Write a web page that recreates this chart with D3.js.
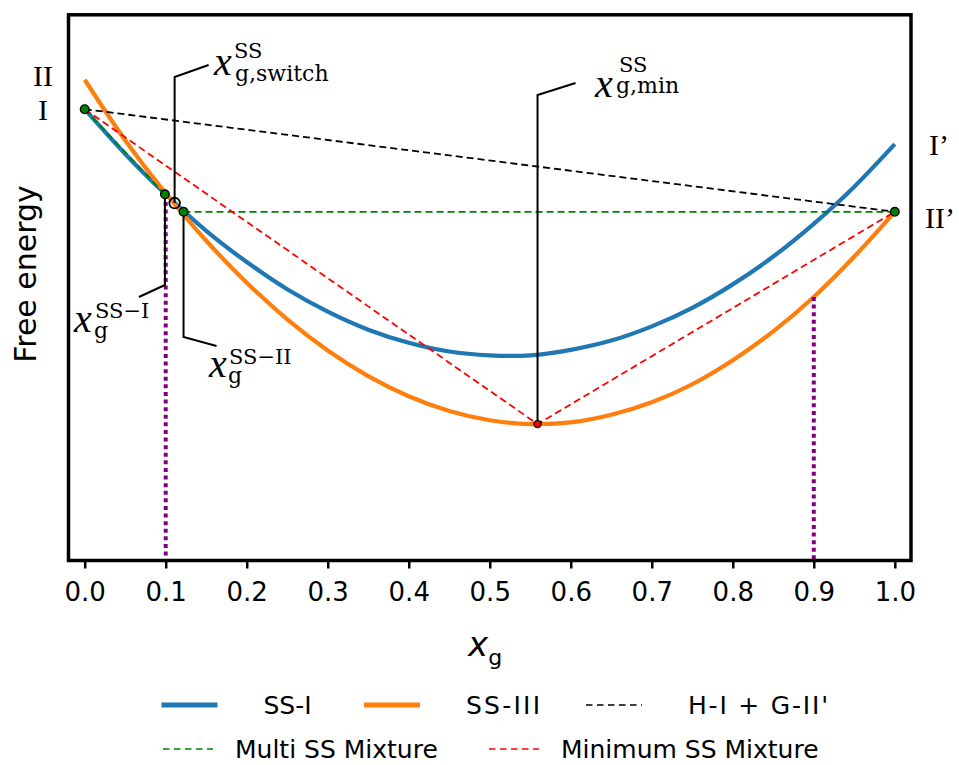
<!DOCTYPE html>
<html>
<head>
<meta charset="utf-8">
<script src="https://cdn.jsdelivr.net/npm/d3@7"></script>
<style>
  html, body { margin: 0; padding: 0; background: #fff; }
  svg { display: block; }
</style>
</head>
<body>
<svg id="chart" width="959" height="765"></svg>
<script>
// Composition grid and free-energy profiles (arbitrary energy units)
const xGrid = [0.00, 0.05, 0.10, 0.15, 0.20, 0.25, 0.30, 0.35, 0.40, 0.45, 0.50,
               0.55, 0.60, 0.65, 0.70, 0.75, 0.80, 0.85, 0.90, 0.95, 1.00];
const ssI   = [8.27, 7.45, 6.71, 6.04, 5.47, 4.97, 4.56, 4.23, 3.99, 3.83, 3.76,
               3.76, 3.86, 4.03, 4.29, 4.63, 5.06, 5.57, 6.17, 6.85, 7.63];
const ssIII = [8.81, 7.70, 6.73, 5.86, 5.09, 4.42, 3.85, 3.38, 3.01, 2.74, 2.57,
               2.50, 2.53, 2.67, 2.90, 3.23, 3.67, 4.20, 4.83, 5.57, 6.39];

// Special compositions [x, energy]
const pointI      = [0.000, 8.27];
const pointIIp    = [1.000, 6.39];
const tangentSSI  = [0.099, 6.71];
const switchPoint = [0.111, 6.55];
const tangentSSII = [0.122, 6.39];
const minPoint    = [0.559, 2.50];

// Dotted composition limits and the energy where each starts
const limitX   = [0.1, 0.9];
const limitTop = [6.71, 4.83];

// Tangent constructions
const hostGuest = [pointI, pointIIp];
const multiMix  = [[pointI, tangentSSI], [tangentSSII, pointIIp]];
const minMix    = [pointI, minPoint, pointIIp];

const xTicks = [0, 0.1, 0.2, 0.3, 0.4, 0.5, 0.6, 0.7, 0.8, 0.9, 1.0];

const C = {
  blue: "#1f77b4", orange: "#ff7f0e", black: "#000000",
  green: "#008000", red: "#ff0000", purple: "#800080"
};

const svg = d3.select("#chart");
const frame = { left: 68.5, right: 911, top: 14.8, bottom: 560.5 };

const x = d3.scaleLinear().domain([-0.02, 1.02]).range([frame.left, frame.right]);
const y = d3.scaleLinear().domain([0, 10]).range([frame.bottom, frame.top]);

svg.append("defs").append("clipPath").attr("id", "plotClip")
  .append("rect")
  .attr("x", frame.left).attr("y", frame.top)
  .attr("width", frame.right - frame.left).attr("height", frame.bottom - frame.top);

const plot = svg.append("g").attr("clip-path", "url(#plotClip)");

const curve = d3.line().x(d => x(d[0])).y(d => y(d[1])).curve(d3.curveNatural);
const seg = d3.line().x(d => x(d[0])).y(d => y(d[1]));

// Solid-solution free-energy curves
plot.append("path").datum(xGrid.map((v, i) => [v, ssI[i]]))
  .attr("d", curve).attr("fill", "none").attr("stroke", C.blue).attr("stroke-width", 4.2);
plot.append("path").datum(xGrid.map((v, i) => [v, ssIII[i]]))
  .attr("d", curve).attr("fill", "none").attr("stroke", C.orange).attr("stroke-width", 4.2);

// Common-tangent / mixture lines
const dash = "7,4";
const dashWidth = 1.8;
plot.append("path").datum(hostGuest).attr("d", seg)
  .attr("fill", "none").attr("stroke", C.black).attr("stroke-width", dashWidth).attr("stroke-dasharray", dash);
multiMix.forEach(s => plot.append("path").datum(s).attr("d", seg)
  .attr("fill", "none").attr("stroke", C.green).attr("stroke-width", dashWidth).attr("stroke-dasharray", dash));
plot.append("path").datum(minMix).attr("d", seg)
  .attr("fill", "none").attr("stroke", C.red).attr("stroke-width", dashWidth).attr("stroke-dasharray", dash);

// Composition limits
limitX.forEach((v, i) => plot.append("line")
  .attr("x1", x(v)).attr("x2", x(v))
  .attr("y1", y(limitTop[i])).attr("y2", y(0))
  .attr("stroke", C.purple).attr("stroke-width", 4).attr("stroke-dasharray", "4,3.6"));

// Annotation leaders: vertical drop/rise from the point, then a short slant to the label
const leaders = [
  { p: tangentSSI,  yTurn: 285,  dx: -26, dy: 12 },
  { p: tangentSSII, yTurn: 337,  dx: 33,  dy: 9 },
  { p: switchPoint, yTurn: 77,   dx: 34,  dy: -12 },
  { p: minPoint,    yTurn: 95,   dx: 38,  dy: -12 }
];
leaders.forEach(l => {
  const px = x(l.p[0]);
  svg.append("path")
    .attr("d", `M${px},${y(l.p[1])} L${px},${l.yTurn} L${px + l.dx},${l.yTurn + l.dy}`)
    .attr("fill", "none").attr("stroke", "#000").attr("stroke-width", 2);
});

// Markers
[pointI, pointIIp, tangentSSI, tangentSSII].forEach(p => svg.append("circle")
  .attr("cx", x(p[0])).attr("cy", y(p[1])).attr("r", 4.3)
  .attr("fill", C.green).attr("stroke", "#000").attr("stroke-width", 1.4));
svg.append("circle").attr("cx", x(switchPoint[0])).attr("cy", y(switchPoint[1])).attr("r", 5.3)
  .attr("fill", "none").attr("stroke", "#000").attr("stroke-width", 1.8);
svg.append("circle").attr("cx", x(minPoint[0])).attr("cy", y(minPoint[1])).attr("r", 3.6)
  .attr("fill", C.red).attr("stroke", "#000").attr("stroke-width", 1.2);

// Frame
svg.append("rect")
  .attr("x", frame.left).attr("y", frame.top)
  .attr("width", frame.right - frame.left).attr("height", frame.bottom - frame.top)
  .attr("fill", "none").attr("stroke", "#000").attr("stroke-width", 3.5);

// X axis
const xAxis = d3.axisBottom(x).tickValues(xTicks).tickFormat(d3.format(".1f"))
  .tickSize(8).tickPadding(14);
const gx = svg.append("g").attr("transform", `translate(0,${frame.bottom})`).call(xAxis);
gx.select(".domain").remove();
gx.selectAll(".tick line").attr("stroke", "#000").attr("stroke-width", 2.5);
gx.selectAll(".tick text").attr("fill", "#000")
  .style("font-family", "'DejaVu Sans', sans-serif").style("font-size", "26px");

// Axis titles
svg.append("text")
  .attr("transform", "translate(36,274) rotate(-90)")
  .attr("text-anchor", "middle")
  .style("font-family", "'DejaVu Sans', sans-serif").style("font-size", "30px")
  .text("Free energy");

const xTitle = svg.append("text")
  .attr("x", 468).attr("y", 656)
  .style("font-family", "'DejaVu Sans', sans-serif");
xTitle.append("tspan").style("font-size", "34px").style("font-style", "italic").text("x");
xTitle.append("tspan").attr("dy", 9).style("font-size", "22px").text("g");

// Phase end-member labels
const serif = "'Liberation Serif', 'DejaVu Serif', serif";
const scriptSerif = "'DejaVu Serif', serif";
const roman = [
  { t: "II", x: 43, y: 86, a: "middle" },
  { t: "I", x: 43, y: 120, a: "middle" },
  { t: "I\u2019", x: 929, y: 155, a: "start" },
  { t: "II\u2019", x: 925, y: 228, a: "start" }
];
roman.forEach(r => svg.append("text")
  .attr("x", r.x).attr("y", r.y).attr("text-anchor", r.a)
  .style("font-family", serif).style("font-size", "30px").text(r.t));

// Composition labels x_g^{...}
const mathLabels = [
  { x: 74,  y: 332, sup: "SS\u2212I",  sub: "g",        supX: 95,  supY: 318, subX: 94,  subY: 338 },
  { x: 209, y: 377, sup: "SS\u2212II", sub: "g",        supX: 229, supY: 364, subX: 228, subY: 383 },
  { x: 214, y: 75,  sup: "SS",         sub: "g,switch", supX: 234, supY: 58,  subX: 235, subY: 81 },
  { x: 595, y: 97,  sup: "SS",         sub: "g,min",    supX: 619, supY: 72,  subX: 616, subY: 93 }
];
mathLabels.forEach(m => {
  svg.append("text").attr("x", m.x).attr("y", m.y)
    .style("font-family", serif).style("font-size", "40px").style("font-style", "italic").text("x");
  svg.append("text").attr("x", m.supX).attr("y", m.supY)
    .style("font-family", scriptSerif).style("font-size", "21px").text(m.sup);
  svg.append("text").attr("x", m.subX).attr("y", m.subY)
    .style("font-family", scriptSerif).style("font-size", "22px").text(m.sub);
});

// Legend (two rows below the axes)
const legendRows = [
  { y: 705, handle: 56, textOffset: 102, items: [
    { label: "SS-I",        x0: 161.5, color: C.blue,   width: 5,   dash: null,      span: null },
    { label: "SS-III",      x0: 364,   color: C.orange, width: 5,   dash: null,      span: 74 },
    { label: "H-I + G-II'", x0: 586,   color: C.black,  width: 1.6, dash: "6.5,4.5", span: 140 } ] },
  { y: 749, handle: 50, textOffset: 72, items: [
    { label: "Multi SS Mixture",   x0: 163, color: C.green, width: 1.6, dash: "6.5,4.5", span: null },
    { label: "Minimum SS Mixture", x0: 489, color: C.red,   width: 1.6, dash: "6.5,4.5", span: null } ] }
];
legendRows.forEach(row => {
  row.items.forEach(it => {
    svg.append("line").attr("x1", it.x0).attr("x2", it.x0 + row.handle)
      .attr("y1", row.y).attr("y2", row.y)
      .attr("stroke", it.color).attr("stroke-width", it.width)
      .attr("stroke-dasharray", it.dash);
    const t = svg.append("text").attr("x", it.x0 + row.textOffset).attr("y", row.y).attr("dy", "0.36em")
      .style("font-family", "'DejaVu Sans', sans-serif").style("font-size", "25px").text(it.label);
    if (it.span) t.attr("textLength", it.span).attr("lengthAdjust", "spacing");
  });
});
</script>
</body>
</html>
